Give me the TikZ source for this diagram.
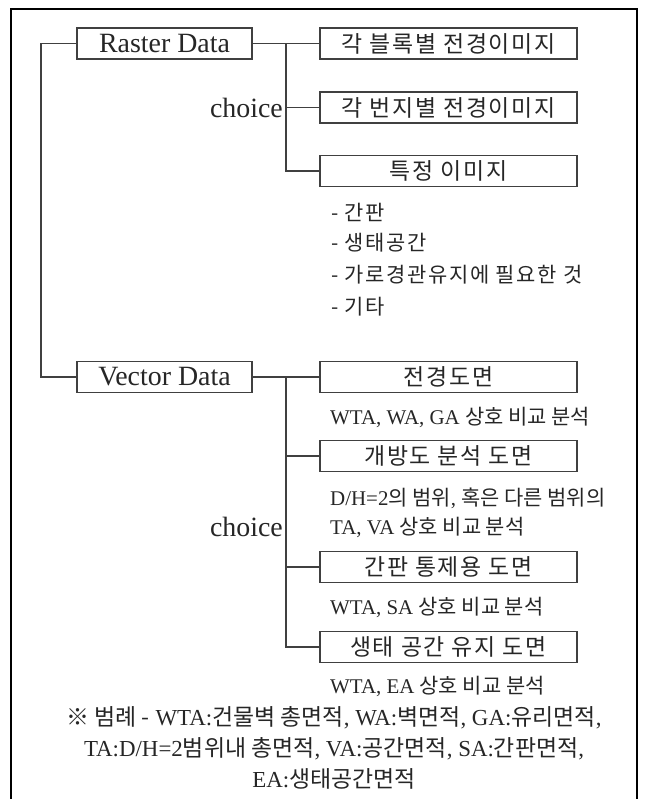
\documentclass[tikz,border=0pt]{standalone}
\usepackage{fontspec}
\setmainfont{Liberation Serif}
\newfontfamily\krfont{Noto Sans CJK KR}
\newfontfamily\krwide{Noto Sans CJK KR}[LetterSpace=8]
\newcommand\ko[1]{{\krfont #1}}
\usetikzlibrary{positioning}

\begin{document}
\begin{tikzpicture}[x=1bp,y=-1bp,every node/.style={text=black!85},
    databox/.style={draw=black!75,line width=1.6bp,minimum width=175bp,minimum height=31bp,inner sep=0pt,font=\fontsize{28}{28}\selectfont},
    itembox/.style={draw=black!75,line width=1.6bp,minimum width=257bp,minimum height=31bp,inner sep=0pt,font=\krwide\fontsize{23}{23}\selectfont},
    note/.style={anchor=west,inner sep=0pt,font=\fontsize{21}{21}\selectfont},
    item/.style={anchor=west,inner sep=0pt,font=\krwide\fontsize{21}{21}\selectfont},
    link/.style={draw=black!75,line width=1.8bp}]
  \useasboundingbox (0,0) rectangle (646,799);
  % frame, open at the bottom
  \draw[line width=1.2bp] (11,799) -- (11,9) -- (637,9) -- (637,799);

  \node[databox] (raster) at (164.5,43.5) {Raster Data};
  \node[databox] (vector) at (164.5,377) {Vector Data};
  \coordinate (root) at (41,43.5);
  \draw[link] (raster.west) -- (root) |- (vector.west);

  % raster side
  \node[itembox] (blk) at (448.5,43.5) {각 블록별 전경이미지};
  \node[itembox] (lot) at (448.5,107.5) {각 번지별 전경이미지};
  \node[itembox] (img) at (448.5,171) {특정 이미지};
  \node[anchor=east,inner sep=0pt,font=\fontsize{28}{28}\selectfont] (rchoice) at (283,107.5) {choice};
  \coordinate (rfork) at (286,43.5);
  \draw[link] (raster.east) -- (blk.west);
  \draw[link] (rfork) |- (lot.west);
  \draw[link] (rfork) |- (img.west);
  \node[item] (i1) at (331,212) {- 간판};
  \node[item] (i2) at (331,243) {- 생태공간};
  \node[item] (i3) at (331,275) {- 가로경관유지에 필요한 것};
  \node[item] (i4) at (331,307) {- 기타};

  % vector side
  \node[itembox] (view) at (448.5,377) {전경도면};
  \node[itembox] (open) at (448.5,456) {개방도 분석 도면};
  \node[itembox] (sign) at (448.5,567) {간판 통제용 도면};
  \node[itembox] (eco) at (448.5,647) {생태 공간 유지 도면};
  \node[anchor=east,inner sep=0pt,font=\fontsize{28}{28}\selectfont] (vchoice) at (283,527) {choice};
  \coordinate (vfork) at (286,377);
  \draw[link] (vector.east) -- (view.west);
  \draw[link] (vfork) |- (open.west);
  \draw[link] (vfork) |- (sign.west);
  \draw[link] (vfork) |- (eco.west);
  \node[note] (n1) at (330,417) {WTA, WA, GA \ko{상호 비교 분석}};
  \node[note] (n2) at (330,498) {D/H=2\ko{의 범위}, \ko{혹은 다른 범위의}};
  \node[note] (n3) at (330,527) {TA, VA \ko{상호 비교 분석}};
  \node[note] (n4) at (330,607) {WTA, SA \ko{상호 비교 분석}};
  \node[note] (n5) at (330,686) {WTA, EA \ko{상호 비교 분석}};

  % legend
  \node[align=center,inner sep=0pt,font=\fontsize{23}{31}\selectfont] (legend) at (334,748)
    {\ko{※ 범례 -} WTA:\ko{건물벽 총면적}, WA:\ko{벽면적}, GA:\ko{유리면적},\\
     TA:D/H=2\ko{범위내 총면적}, VA:\ko{공간면적}, SA:\ko{간판면적},\\
     EA:\ko{생태공간면적}};
\end{tikzpicture}
\end{document}
